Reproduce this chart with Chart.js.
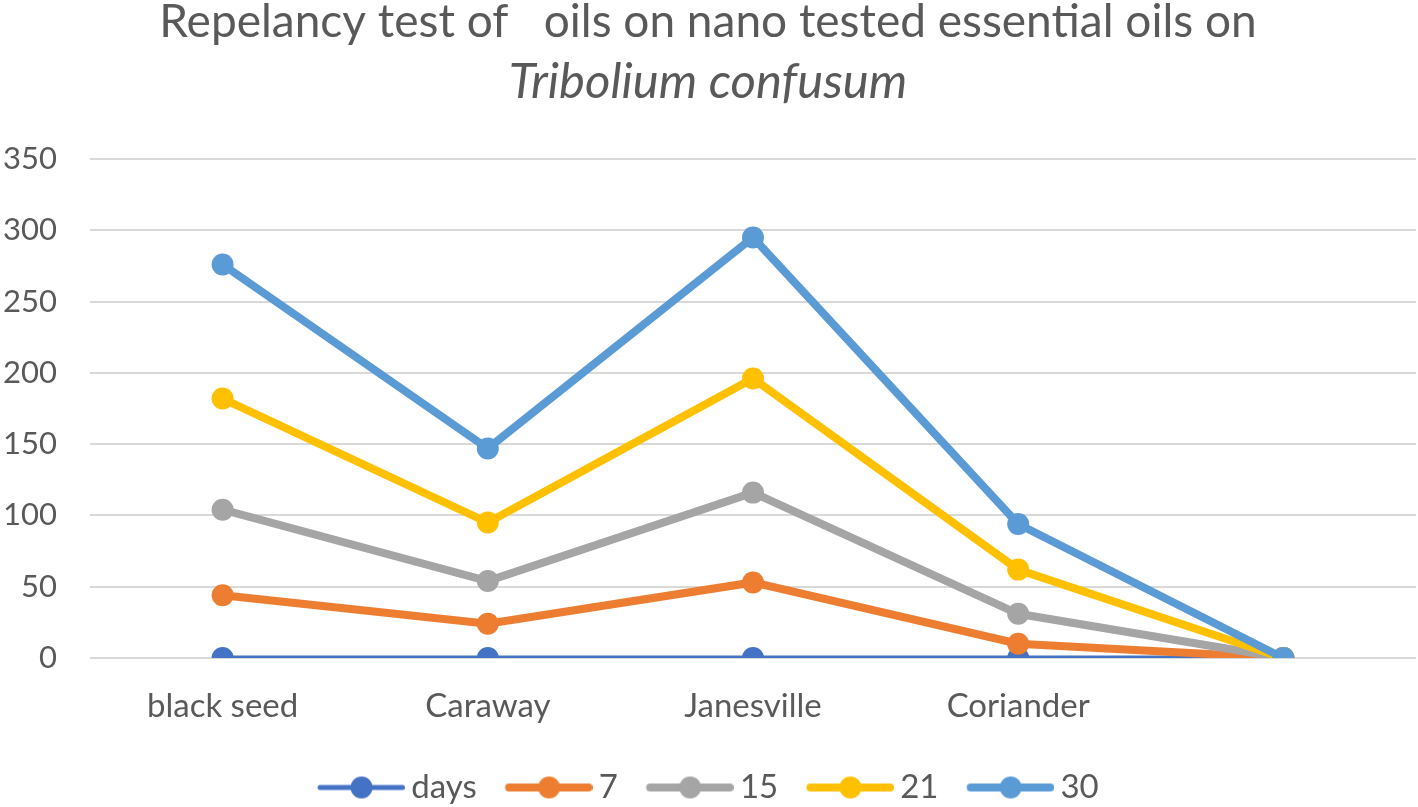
<!DOCTYPE html>
<html lang="en">
<head>
    <meta charset="UTF-8">
    <title>Repelancy test</title>
    <script src="https://cdn.jsdelivr.net/npm/chart.js"></script>
    <style>
        html, body { margin: 0; padding: 0; background: #fff; }
        #wrap { width: 1418px; height: 807px; }
    </style>
</head>
<body>
    <div id="wrap"><canvas id="chart" width="1418" height="807"></canvas></div>

    <script>
        // categories (last one has no label in the original)
        const oils = ['black seed', 'Caraway', 'Janesville', 'Coriander', ''];
        const seriesNames = ['days', '7', '15', '21', '30'];

        // values
        const daysVals = [0, 0, 0, 0, 0];
        const day7 = [44, 24, 53, 10, 0];
        const day15 = [104, 54, 116, 31, 0];
        const day21 = [182, 95, 196, 62, 0];
        const day30 = [276, 147, 295, 94, 0];

        const colors = ['#4472C4', '#ED7D31', '#A5A5A5', '#FFC000', '#5B9BD5'];
        const widths = [5, 8, 8, 8, 8];
        const textColor = '#595959';
        const fontFamily = 'Lato, "Open Sans", sans-serif';

        // legend marker: line with a dot in the middle
        const LINE_LEN = 88;
        const BOX_W = 77.5;
        function legendMarker(color, w) {
            const c = document.createElement('canvas');
            c.width = 2 * LINE_LEN - BOX_W;
            c.height = 26;
            const g = c.getContext('2d');
            const x0 = LINE_LEN - BOX_W;
            g.strokeStyle = color;
            g.lineWidth = w;
            g.lineCap = 'round';
            g.beginPath();
            g.moveTo(x0 + w / 2, 13);
            g.lineTo(c.width - w / 2, 13);
            g.stroke();
            g.fillStyle = color;
            g.beginPath();
            g.arc(x0 + LINE_LEN / 2, 13, 11, 0, Math.PI * 2);
            g.fill();
            return c;
        }
        const markers = colors.map((c, i) => legendMarker(c, widths[i]));

        const allValues = [daysVals, day7, day15, day21, day30];
        const datasets = seriesNames.map((name, i) => ({
            label: name,
            data: allValues[i],
            borderColor: colors[i],
            backgroundColor: colors[i],
            borderWidth: widths[i],
            pointRadius: 11,
            pointBorderWidth: 0,
            pointBackgroundColor: colors[i],
            tension: 0,
            order: seriesNames.length - i  // later series drawn on top
        }));

        const ctx = document.getElementById('chart').getContext('2d');
        new Chart(ctx, {
            type: 'line',
            data: { labels: oils, datasets: datasets },
            options: {
                responsive: false,
                animation: false,
                layout: { autoPadding: false, padding: { left: 0, right: 2, top: 0, bottom: -7 } },
                plugins: {
                    title: {
                        display: true,
                        text: 'Repelancy test of   oils on nano tested essential oils on',
                        color: textColor,
                        font: { family: fontFamily, size: 46, weight: 'normal', lineHeight: 1 },
                        padding: { top: -1, bottom: 12.5 }
                    },
                    subtitle: {
                        display: true,
                        text: 'Tribolium confusum',
                        color: textColor,
                        font: { family: fontFamily, size: 49, weight: 'normal', style: 'italic', lineHeight: 1 },
                        padding: { top: 0, bottom: 52.5 }
                    },
                    legend: {
                        position: 'bottom',
                        labels: {
                            usePointStyle: true,
                            pointStyleWidth: BOX_W,
                            padding: 28,
                            color: textColor,
                            font: { family: fontFamily, size: 33 },
                            generateLabels: chart => chart.data.datasets.map((ds, i) => ({
                                text: ds.label,
                                pointStyle: markers[i],
                                fillStyle: ds.borderColor,
                                strokeStyle: ds.borderColor,
                                lineWidth: 0,
                                hidden: false,
                                fontColor: textColor,
                                datasetIndex: i
                            }))
                        }
                    },
                    tooltip: { enabled: false }
                },
                scales: {
                    x: {
                        offset: true,
                        grid: { display: false },
                        border: { display: false },
                        ticks: { color: textColor, font: { family: fontFamily, size: 33 }, padding: 21 },
                        afterFit: s => {
                            s.height = 85;
                            s.paddingLeft = 0;
                            s.paddingRight = 0;
                        }
                    },
                    y: {
                        min: 0,
                        max: 350,
                        ticks: { stepSize: 50, color: textColor, font: { family: fontFamily, size: 31 }, padding: 33 },
                        grid: { color: '#D9D9D9', lineWidth: 2, drawTicks: false },
                        border: { display: false },
                        afterFit: s => { s.width = 90; }
                    }
                }
            }
        });
    </script>
</body>
</html>
